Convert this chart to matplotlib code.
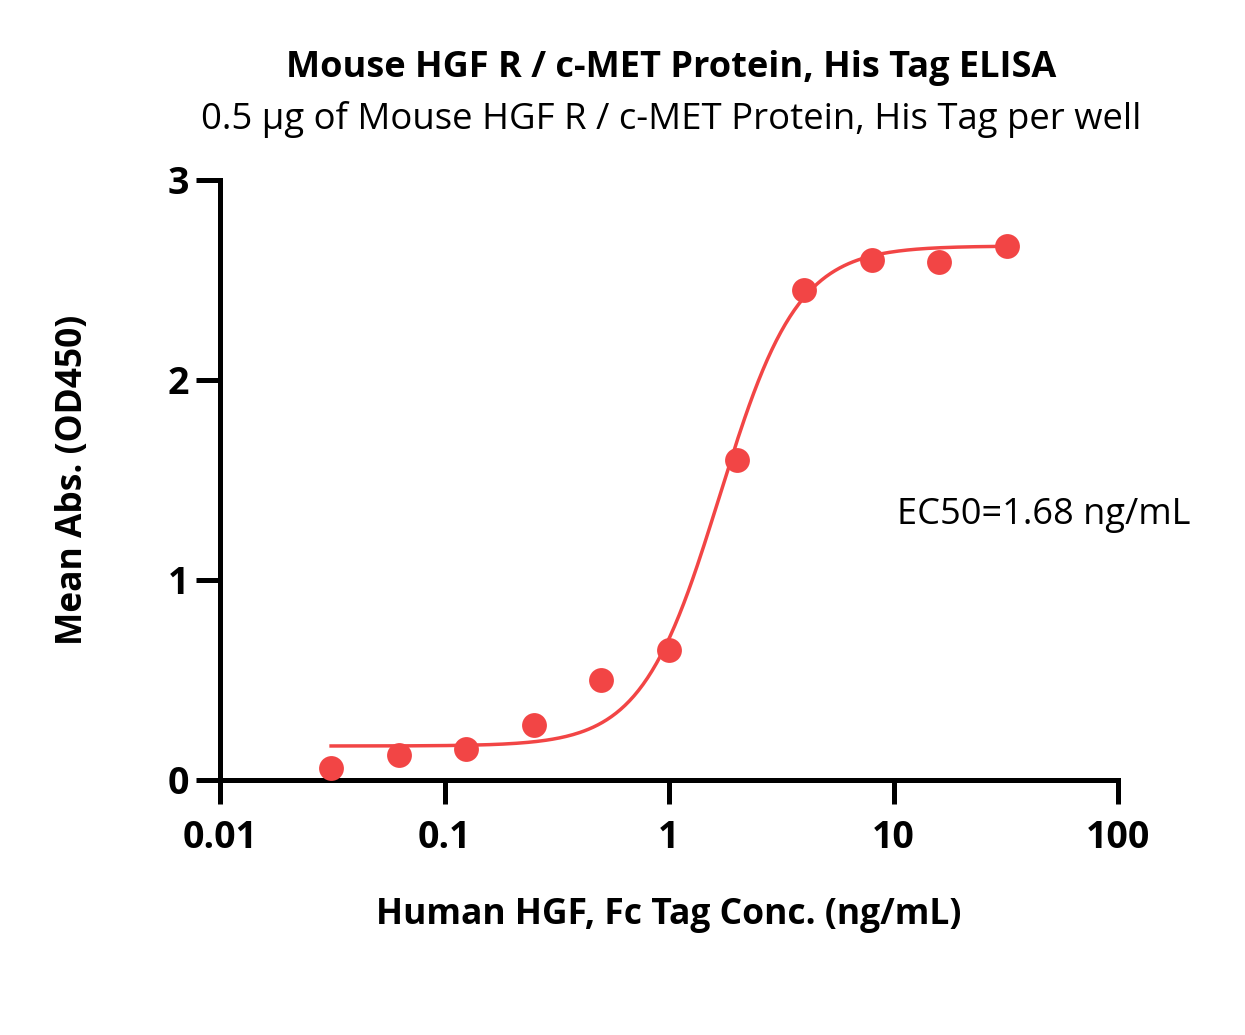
import numpy as np
import matplotlib
matplotlib.use("Agg")
import matplotlib.pyplot as plt

plt.rcParams['font.family'] = ['Open Sans', 'DejaVu Sans']

# data
conc = [0.03125, 0.0625, 0.125, 0.25, 0.5, 1, 2, 4, 8, 16, 32]
od450 = [0.06, 0.125, 0.155, 0.275, 0.50, 0.65, 1.60, 2.45, 2.60, 2.59, 2.67]

# 4PL fit parameters
bottom, top, ec50, hill = 0.17, 2.67, 1.68, 2.5

red = '#F24545'

fig = plt.figure(figsize=(12.45, 10.35), dpi=100)
ax = fig.add_axes([220/1245, 1 - 780/1035, (1118-220)/1245, 600/1035])

xfit = np.logspace(np.log10(conc[0]), np.log10(conc[-1]), 300)
yfit = bottom + (top - bottom) / (1 + (ec50 / xfit) ** hill)
ax.plot(xfit, yfit, color=red, lw=2.5, zorder=2)
ax.scatter(conc, od450, s=320, color=red, zorder=3, linewidths=0)

ax.set_xscale('log')
ax.set_xlim(0.01, 100)
ax.set_ylim(0, 3)
ax.set_xticks([0.01, 0.1, 1, 10, 100])
ax.set_xticklabels(['0.01', '0.1', '1', '10', '100'])
ax.xaxis.set_minor_locator(matplotlib.ticker.NullLocator())
ax.set_yticks([0, 1, 2, 3])

for s in ['top', 'right']:
    ax.spines[s].set_visible(False)
for s in ['left', 'bottom']:
    ax.spines[s].set_linewidth(3.6)
ax.tick_params(width=3.6, length=17, labelsize=27, pad=5)
for lab in ax.get_xticklabels() + ax.get_yticklabels():
    lab.set_fontweight('bold')
ax.tick_params(axis='x', pad=11)

ax.set_xlabel('Human HGF, Fc Tag Conc. (ng/mL)', fontsize=25.5, fontweight='bold')
ax.set_ylabel('Mean Abs. (OD450)', fontsize=25.5, fontweight='bold')
ax.xaxis.set_label_coords(0.5, (780 - 915) / 600)
ax.xaxis.label.set_va('center')
ax.yaxis.set_label_coords((73 - 220) / 898, (780 - 480) / 600)
ax.yaxis.label.set_va('center')

fig.text(671/1245, 1 - 68/1035, 'Mouse HGF R / c-MET Protein, His Tag ELISA',
         ha='center', va='center', fontsize=26, fontweight='bold')
fig.text(671/1245, 1 - 119/1035, '0.5 μg of Mouse HGF R / c-MET Protein, His Tag per well',
         ha='center', va='center', fontsize=26.3)
ax.text(1044/1245, 1 - 515/1035, 'EC50=1.68 ng/mL', transform=fig.transFigure,
        ha='center', va='center', fontsize=26)

fig.savefig('out.png', dpi=100)
